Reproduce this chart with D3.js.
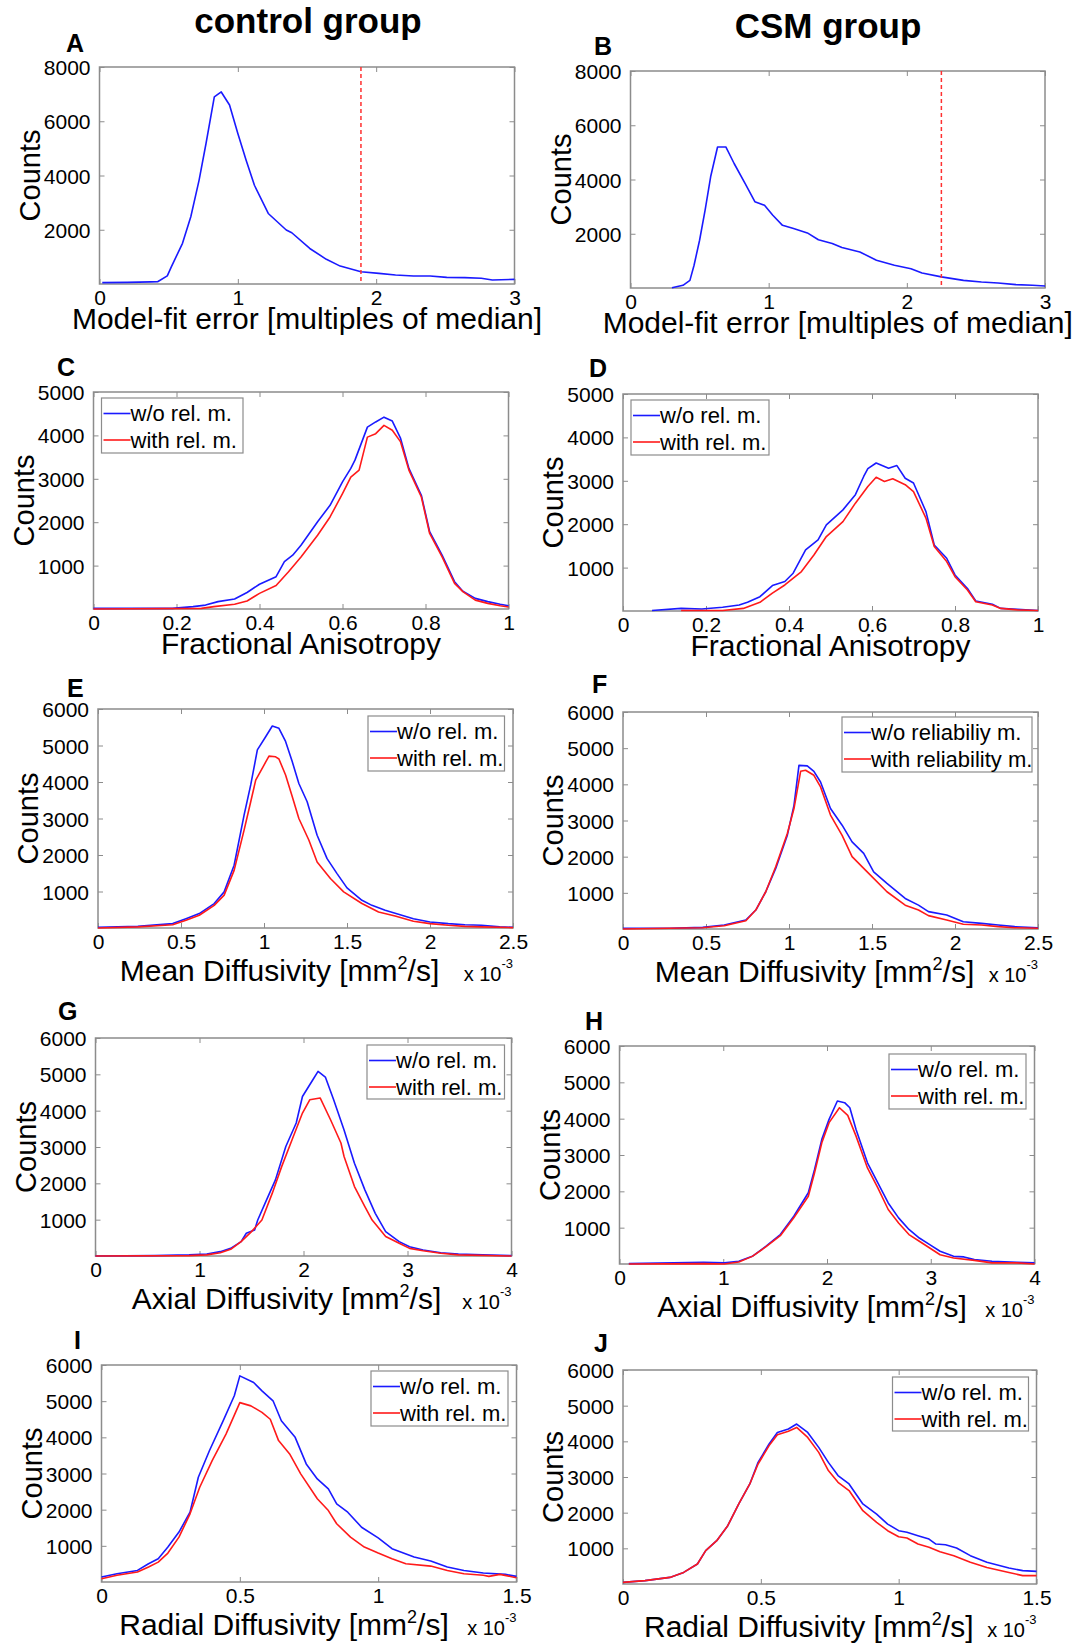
<!DOCTYPE html>
<html>
<head>
<meta charset="utf-8">
<script src="https://cdn.jsdelivr.net/npm/d3@7"></script>
<style>
  body { margin: 0; background: #fff; }
  svg text { font-family: "Liberation Sans", Arial, sans-serif; fill: #000; }
</style>
</head>
<body>
<script>
/* column titles */
var groupTitles = ["control group", "CSM group"];

/* A / B: model-fit error histograms, [x, counts] */
var fitErrCtrl = [[0.02,50],[0.2,60],[0.37,80],[0.42,85],[0.49,300],[0.52,640],[0.6,1500],[0.66,2480],[0.72,3830],[0.77,5180],[0.83,6900],[0.88,7080],[0.94,6600],[1.0,5550],[1.06,4560],[1.12,3640],[1.22,2600],[1.35,1990],[1.39,1890],[1.52,1310],[1.64,910],[1.74,660],[1.89,450],[2.02,390],[2.14,330],[2.27,295],[2.39,295],[2.51,245],[2.64,235],[2.76,210],[2.84,150],[3.0,170]];
var fitErrCsm = [[0.3,10],[0.38,100],[0.43,280],[0.46,840],[0.5,1760],[0.54,2870],[0.58,4100],[0.63,5200],[0.69,5200],[0.75,4590],[0.83,3850],[0.9,3180],[0.97,3050],[1.03,2680],[1.1,2310],[1.18,2190],[1.28,2030],[1.36,1780],[1.46,1640],[1.53,1490],[1.66,1330],[1.78,1020],[1.91,840],[2.03,710],[2.11,550],[2.25,410],[2.41,280],[2.54,220],[2.66,185],[2.79,125],[2.91,100],[3.0,75]];
var fitErrCutoff = [1.89, 2.25];

/* C / D: fractional anisotropy */
var faCtrlWo = [[0,15],[0.19,15],[0.24,55],[0.27,90],[0.3,170],[0.34,230],[0.37,380],[0.4,570],[0.44,745],[0.46,1090],[0.48,1240],[0.5,1470],[0.54,2010],[0.57,2390],[0.6,2930],[0.62,3240],[0.63,3430],[0.66,4190],[0.68,4310],[0.7,4420],[0.72,4330],[0.74,3930],[0.76,3240],[0.79,2620],[0.81,1780],[0.84,1240],[0.87,630],[0.89,410],[0.92,245],[0.95,170],[0.98,110],[1.0,75]];
var faCtrlWith = [[0,0],[0.26,15],[0.29,55],[0.34,110],[0.37,185],[0.4,360],[0.44,540],[0.47,860],[0.5,1200],[0.54,1700],[0.57,2120],[0.6,2660],[0.62,3040],[0.64,3200],[0.66,3960],[0.68,4040],[0.7,4230],[0.72,4120],[0.74,3850],[0.76,3200],[0.79,2580],[0.81,1740],[0.84,1200],[0.87,590],[0.89,400],[0.92,205],[0.95,130],[0.98,75],[1.0,45]];
var faCsmWo = [[0.07,10],[0.14,60],[0.19,45],[0.24,85],[0.28,140],[0.3,200],[0.33,330],[0.36,585],[0.39,680],[0.41,870],[0.44,1410],[0.47,1640],[0.49,1985],[0.53,2330],[0.56,2680],[0.58,3100],[0.59,3280],[0.61,3410],[0.64,3290],[0.66,3350],[0.68,3060],[0.7,2950],[0.73,2290],[0.75,1520],[0.78,1215],[0.8,830],[0.83,520],[0.85,230],[0.89,155],[0.91,60],[0.95,40],[1.0,10]];
var faCsmWith = [[0.14,10],[0.24,10],[0.29,60],[0.33,200],[0.36,410],[0.39,600],[0.43,910],[0.46,1290],[0.49,1715],[0.53,2060],[0.56,2485],[0.59,2870],[0.61,3080],[0.63,2985],[0.65,3045],[0.68,2910],[0.7,2750],[0.73,2140],[0.75,1485],[0.78,1140],[0.8,790],[0.83,485],[0.85,215],[0.89,140],[0.91,60],[0.95,25],[1.0,10]];

/* E / F: mean diffusivity (x 10^-3 mm^2/s) */
var mdCtrlWo = [[0,20],[0.24,45],[0.45,120],[0.53,255],[0.61,395],[0.7,670],[0.76,990],[0.82,1720],[0.88,3090],[0.92,3920],[0.96,4880],[1.01,5240],[1.05,5535],[1.09,5470],[1.13,5110],[1.17,4560],[1.21,3960],[1.26,3460],[1.32,2540],[1.38,1900],[1.44,1490],[1.5,1100],[1.59,760],[1.65,620],[1.73,485],[1.82,365],[1.9,255],[2.0,165],[2.11,120],[2.21,90],[2.31,75],[2.42,30],[2.5,20]];
var mdCtrlWith = [[0,0],[0.24,30],[0.45,90],[0.53,210],[0.61,350],[0.7,620],[0.76,900],[0.82,1580],[0.88,2680],[0.92,3460],[0.95,4050],[1.0,4465],[1.03,4710],[1.07,4690],[1.09,4630],[1.13,4190],[1.17,3600],[1.21,3000],[1.27,2410],[1.32,1810],[1.4,1355],[1.48,990],[1.59,670],[1.69,440],[1.79,330],[1.9,185],[2.0,120],[2.11,75],[2.21,45],[2.31,30],[2.5,10]];
var mdCsmWo = [[0,20],[0.28,20],[0.48,45],[0.61,110],[0.74,250],[0.8,525],[0.86,1030],[0.92,1675],[0.99,2595],[1.03,3420],[1.06,4525],[1.11,4510],[1.15,4360],[1.19,4065],[1.25,3330],[1.32,2870],[1.38,2410],[1.45,2090],[1.51,1580],[1.59,1260],[1.7,845],[1.78,660],[1.84,480],[1.95,385],[2.05,200],[2.16,155],[2.26,110],[2.36,65],[2.5,35]];
var mdCsmWith = [[0,0],[0.28,20],[0.48,35],[0.61,90],[0.74,230],[0.8,525],[0.86,1030],[0.92,1720],[0.99,2640],[1.03,3330],[1.07,4360],[1.1,4390],[1.15,4250],[1.19,3930],[1.25,3150],[1.32,2590],[1.38,2000],[1.45,1675],[1.51,1400],[1.59,1030],[1.7,660],[1.78,525],[1.84,370],[1.95,250],[2.05,130],[2.16,110],[2.26,65],[2.36,35],[2.5,20]];

/* G / H: axial diffusivity */
var adCtrlWo = [[0,0],[0.57,10],[0.9,30],[1.07,55],[1.2,120],[1.3,210],[1.4,395],[1.45,625],[1.53,715],[1.56,990],[1.63,1450],[1.73,2095],[1.83,3015],[1.93,3660],[1.99,4390],[2.09,4850],[2.14,5080],[2.21,4925],[2.29,4300],[2.39,3470],[2.49,2555],[2.59,1820],[2.69,1175],[2.79,670],[2.92,395],[3.02,255],[3.15,165],[3.32,90],[3.49,55],[3.72,30],[4.0,10]];
var adCtrlWith = [[0,0],[0.9,10],[1.07,30],[1.2,90],[1.3,185],[1.4,395],[1.5,670],[1.6,990],[1.7,1730],[1.79,2460],[1.89,3200],[1.99,3935],[2.06,4300],[2.16,4350],[2.26,3750],[2.36,3110],[2.39,2740],[2.49,1910],[2.59,1360],[2.66,990],[2.79,535],[2.92,350],[3.02,210],[3.15,145],[3.32,75],[3.49,30],[4.0,0]];
var adCsmWo = [[0.09,10],[0.81,45],[1.01,30],[1.15,75],[1.28,210],[1.41,485],[1.55,810],[1.68,1315],[1.82,1960],[1.88,2600],[1.95,3430],[2.02,3980],[2.1,4485],[2.17,4440],[2.22,4300],[2.28,3700],[2.39,2785],[2.49,2235],[2.59,1680],[2.69,1270],[2.79,950],[2.89,715],[2.99,535],[3.09,350],[3.22,210],[3.32,195],[3.42,120],[3.59,75],[3.83,45],[4.0,30]];
var adCsmWith = [[0.09,0],[0.81,10],[1.01,0],[1.15,55],[1.28,210],[1.41,470],[1.55,780],[1.68,1270],[1.82,1865],[1.88,2510],[1.95,3335],[2.02,3890],[2.12,4300],[2.2,4090],[2.28,3520],[2.39,2645],[2.49,2095],[2.59,1500],[2.69,1130],[2.79,810],[2.89,625],[2.99,440],[3.09,255],[3.22,165],[3.42,100],[3.59,30],[3.83,30],[4.0,0]];

/* I / J: radial diffusivity */
var rdCtrlWo = [[0,140],[0.056,230],[0.13,320],[0.17,505],[0.205,645],[0.24,965],[0.28,1380],[0.32,1930],[0.35,2895],[0.39,3630],[0.44,4460],[0.48,5150],[0.5,5700],[0.55,5515],[0.58,5285],[0.62,5010],[0.65,4460],[0.7,4000],[0.74,3265],[0.78,2850],[0.82,2575],[0.85,2160],[0.89,1930],[0.94,1515],[1.0,1220],[1.05,920],[1.13,690],[1.19,580],[1.25,415],[1.31,320],[1.38,250],[1.46,210],[1.5,155]];
var rdCtrlWith = [[0,90],[0.056,185],[0.13,275],[0.17,415],[0.205,550],[0.24,800],[0.28,1240],[0.32,1885],[0.355,2620],[0.4,3355],[0.45,4090],[0.5,4960],[0.54,4870],[0.58,4690],[0.61,4500],[0.64,3910],[0.68,3540],[0.72,2990],[0.78,2300],[0.82,1975],[0.85,1610],[0.9,1240],[0.95,965],[1.0,800],[1.05,645],[1.1,505],[1.19,440],[1.25,320],[1.31,230],[1.38,185],[1.4,155],[1.44,210],[1.5,120]];
var rdCsmWo = [[0,45],[0.08,95],[0.17,185],[0.22,325],[0.27,560],[0.3,935],[0.34,1215],[0.38,1635],[0.42,2245],[0.46,2805],[0.49,3410],[0.53,3925],[0.56,4250],[0.6,4345],[0.63,4485],[0.67,4250],[0.71,3830],[0.745,3410],[0.78,3040],[0.82,2805],[0.87,2245],[0.92,1960],[0.96,1680],[1.0,1495],[1.03,1450],[1.07,1355],[1.11,1260],[1.135,1120],[1.17,1100],[1.21,1010],[1.26,795],[1.32,610],[1.4,450],[1.45,375],[1.5,355]];
var rdCsmWith = [[0,45],[0.08,95],[0.17,185],[0.22,325],[0.27,560],[0.3,935],[0.34,1215],[0.38,1635],[0.42,2245],[0.46,2805],[0.49,3365],[0.53,3880],[0.56,4185],[0.6,4280],[0.63,4390],[0.67,4110],[0.71,3690],[0.745,3180],[0.78,2850],[0.82,2620],[0.87,2055],[0.92,1730],[0.96,1495],[1.0,1325],[1.03,1290],[1.07,1120],[1.11,1030],[1.15,905],[1.2,795],[1.26,610],[1.32,465],[1.4,325],[1.45,235],[1.5,235]];

/* tick values and labels */
var ticksFitErr = [0, 1, 2, 3];
var ticksFA = [0, 0.2, 0.4, 0.6, 0.8, 1];
var ticksMD = [0, 0.5, 1, 1.5, 2, 2.5];
var ticksAD = [0, 1, 2, 3, 4];
var ticksRD = [0, 0.5, 1, 1.5];
var countTicks8k = [2000, 4000, 6000, 8000];
var countTicks5k = [1000, 2000, 3000, 4000, 5000];
var countTicks6k = [1000, 2000, 3000, 4000, 5000, 6000];
var legendShort = ["w/o rel. m.", "with rel. m."];
var legendLong = ["w/o reliabiliy m.", "with reliability m."];

var BLUE = "#1a1aff", RED = "#ff1a1a", FRAME = "#8c8c8c";

var svg = d3.select("body")
  .append("svg")
    .attr("width", 1074)
    .attr("height", 1644);

/* column titles */
svg.append("text").attr("x", 308).attr("y", 33).attr("text-anchor", "middle")
  .style("font-size", "35px").style("font-weight", "bold").text(groupTitles[0]);
svg.append("text").attr("x", 828).attr("y", 38).attr("text-anchor", "middle")
  .style("font-size", "35px").style("font-weight", "bold").text(groupTitles[1]);

/* panel layout: box = [left, top, right, bottom] */
var panels = [
  { letter: "A", at: [66, 52], box: [99.5, 67, 514.5, 284], xDom: [0, 3], yDom: [0, 8000],
    xTicks: ticksFitErr, yTicks: countTicks8k, label: "Model-fit error [multiples of median]", ldx: 0,
    series: [[fitErrCtrl, BLUE]], cutoff: fitErrCutoff[0] },
  { letter: "B", at: [594, 55], box: [630.5, 71, 1045, 288], xDom: [0, 3], yDom: [0, 8000],
    xTicks: ticksFitErr, yTicks: countTicks8k, label: "Model-fit error [multiples of median]", ldx: 0,
    series: [[fitErrCsm, BLUE]], cutoff: fitErrCutoff[1] },
  { letter: "C", at: [57, 376], box: [93.5, 392, 508.5, 609], xDom: [0, 1], yDom: [0, 5000],
    xTicks: ticksFA, yTicks: countTicks5k, label: "Fractional Anisotropy", ldx: 0,
    series: [[faCtrlWo, BLUE], [faCtrlWith, RED]], legend: [101.5, 398, 243, 453], names: legendShort },
  { letter: "D", at: [589, 377], box: [623, 394, 1038, 611], xDom: [0, 1], yDom: [0, 5000],
    xTicks: ticksFA, yTicks: countTicks5k, label: "Fractional Anisotropy", ldx: 0,
    series: [[faCsmWo, BLUE], [faCsmWith, RED]], legend: [631, 400, 769, 455], names: legendShort },
  { letter: "E", at: [67, 697], box: [98, 709, 513, 928], xDom: [0, 2.5], yDom: [0, 6000],
    xTicks: ticksMD, yTicks: countTicks6k, label: "Mean Diffusivity [mm", ldx: -26, exp: true,
    series: [[mdCtrlWo, BLUE], [mdCtrlWith, RED]], legend: [368, 716, 504.5, 771], names: legendShort },
  { letter: "F", at: [592, 693], box: [623, 712, 1038, 929], xDom: [0, 2.5], yDom: [0, 6000],
    xTicks: ticksMD, yTicks: countTicks6k, label: "Mean Diffusivity [mm", ldx: -16, exp: true,
    series: [[mdCsmWo, BLUE], [mdCsmWith, RED]], legend: [842, 717, 1032, 772], names: legendLong },
  { letter: "G", at: [58, 1020], box: [95.5, 1038, 511.5, 1256], xDom: [0, 4], yDom: [0, 6000],
    xTicks: ticksAD, yTicks: countTicks6k, label: "Axial Diffusivity [mm", ldx: -17, exp: true,
    series: [[adCtrlWo, BLUE], [adCtrlWith, RED]], legend: [367, 1045, 504.5, 1099], names: legendShort },
  { letter: "H", at: [585, 1030], box: [619.5, 1046, 1034.5, 1264], xDom: [0, 4], yDom: [0, 6000],
    xTicks: ticksAD, yTicks: countTicks6k, label: "Axial Diffusivity [mm", ldx: -15, exp: true,
    series: [[adCsmWo, BLUE], [adCsmWith, RED]], legend: [889, 1054, 1026, 1109], names: legendShort },
  { letter: "I", at: [74, 1349], box: [101.5, 1365, 516.5, 1582], xDom: [0, 1.5], yDom: [0, 6000],
    xTicks: ticksRD, yTicks: countTicks6k, label: "Radial Diffusivity [mm", ldx: -25, exp: true,
    series: [[rdCtrlWo, BLUE], [rdCtrlWith, RED]], legend: [371, 1371, 508, 1426], names: legendShort },
  { letter: "J", at: [594, 1352], box: [623, 1370, 1036.5, 1584], xDom: [0, 1.5], yDom: [0, 6000],
    xTicks: ticksRD, yTicks: countTicks6k, label: "Radial Diffusivity [mm", ldx: -21, exp: true,
    series: [[rdCsmWo, BLUE], [rdCsmWith, RED]], legend: [892.5, 1377, 1028.5, 1431], names: legendShort }
];

panels.forEach(function (p) {
  var L = p.box[0], T = p.box[1], R = p.box[2], B = p.box[3];
  var x = d3.scaleLinear().domain(p.xDom).range([L, R]);
  var y = d3.scaleLinear().domain(p.yDom).range([B, T]);
  var g = svg.append("g").attr("class", "panel");

  /* frame with inward ticks on all four sides */
  g.append("rect").attr("x", L).attr("y", T).attr("width", R - L).attr("height", B - T)
    .attr("fill", "none").attr("stroke", FRAME).attr("stroke-width", 1.5);

  g.append("g").attr("transform", "translate(0," + B + ")")
    .call(d3.axisBottom(x).tickValues(p.xTicks).tickSizeInner(-5).tickSizeOuter(0).tickPadding(7)
      .tickFormat(function (d) { return String(d); }))
    .call(function (a) {
      a.select(".domain").remove();
      a.selectAll("line").attr("stroke", FRAME);
      a.selectAll("text").style("font-size", "21px").attr("dy", null).attr("y", 21);
    });
  g.append("g").attr("transform", "translate(0," + T + ")")
    .call(d3.axisTop(x).tickValues(p.xTicks).tickSizeInner(-5).tickSizeOuter(0).tickFormat(""))
    .call(function (a) { a.select(".domain").remove(); a.selectAll("line").attr("stroke", FRAME); });
  g.append("g").attr("transform", "translate(" + L + ",0)")
    .call(d3.axisLeft(y).tickValues(p.yTicks).tickSizeInner(-5).tickSizeOuter(0).tickPadding(9)
      .tickFormat(d3.format("d")))
    .call(function (a) {
      a.select(".domain").remove();
      a.selectAll("line").attr("stroke", FRAME);
      a.selectAll("text").style("font-size", "21px").attr("dy", "0.36em");
    });
  g.append("g").attr("transform", "translate(" + R + ",0)")
    .call(d3.axisRight(y).tickValues(p.yTicks).tickSizeInner(-5).tickSizeOuter(0).tickFormat(""))
    .call(function (a) { a.select(".domain").remove(); a.selectAll("line").attr("stroke", FRAME); });

  /* curves */
  var line = d3.line().x(function (d) { return x(d[0]); }).y(function (d) { return y(d[1]); });
  p.series.forEach(function (s) {
    g.append("path").datum(s[0]).attr("d", line)
      .attr("fill", "none").attr("stroke", s[1]).attr("stroke-width", 1.6)
      .attr("stroke-linejoin", "round");
  });

  /* outlier cutoff */
  if (p.cutoff !== undefined) {
    g.append("line").attr("x1", x(p.cutoff)).attr("x2", x(p.cutoff))
      .attr("y1", T).attr("y2", B)
      .attr("stroke", "#ff3030").attr("stroke-width", 1.5).attr("stroke-dasharray", "4,3");
  }

  /* legend */
  if (p.legend) {
    var lg = p.legend;
    g.append("rect").attr("x", lg[0]).attr("y", lg[1]).attr("width", lg[2] - lg[0]).attr("height", lg[3] - lg[1])
      .attr("fill", "#fff").attr("stroke", FRAME).attr("stroke-width", 1.2);
    p.names.forEach(function (n, i) {
      var cy = lg[1] + 15.5 + i * 26.5;
      g.append("line").attr("x1", lg[0] + 2).attr("x2", lg[0] + 29).attr("y1", cy).attr("y2", cy)
        .attr("stroke", p.series[i][1]).attr("stroke-width", 1.6);
      g.append("text").attr("x", lg[0] + 29).attr("y", cy + 7.5)
        .style("font-size", "22px").text(n);
    });
  }

  /* y axis title */
  g.append("text")
    .attr("transform", "translate(" + (L - 60) + "," + ((T + B) / 2) + ") rotate(-90)")
    .attr("text-anchor", "middle").style("font-size", "29px").text("Counts");

  /* x axis title */
  var cx = (L + R) / 2 + p.ldx;
  if (p.exp) {
    var t = g.append("text").attr("x", cx).attr("y", B + 53).attr("text-anchor", "middle")
      .style("font-size", "30px");
    t.append("tspan").text(p.label);
    t.append("tspan").attr("dy", -12).style("font-size", "18px").text("2");
    t.append("tspan").attr("dy", 12).text("/s]");
    var e = g.append("text").attr("x", R).attr("y", B + 53).attr("text-anchor", "end")
      .style("font-size", "20px");
    e.append("tspan").text("x 10");
    e.append("tspan").attr("dy", -13).style("font-size", "13px").text("-3");
  } else {
    g.append("text").attr("x", cx).attr("y", B + 45).attr("text-anchor", "middle")
      .style("font-size", "30px").text(p.label);
  }

  /* panel letter */
  g.append("text").attr("x", p.at[0]).attr("y", p.at[1])
    .style("font-size", "25px").style("font-weight", "bold").text(p.letter);
});
</script>
</body>
</html>
